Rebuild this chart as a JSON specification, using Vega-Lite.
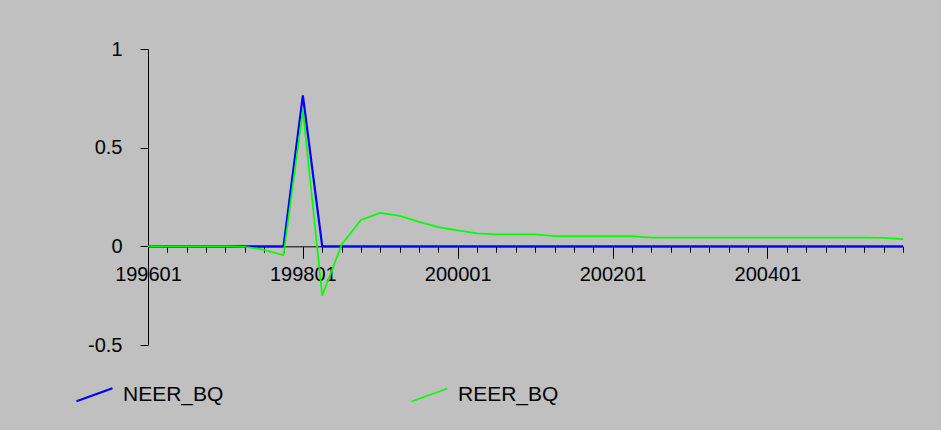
{
  "$schema": "https://vega.github.io/schema/vega-lite/v6.json",
  "autosize": {"type": "none"},
  "width": 755,
  "height": 296,
  "padding": {"left": 148, "top": 49, "right": 38, "bottom": 85},
  "background": "#C0C0C0",
  "config": {
    "view": {"stroke": null},
    "font": "Liberation Sans",
    "axis": {"grid": false, "domainColor": "#000000", "tickColor": "#000000", "labelColor": "#000000", "labelFont": "Liberation Sans", "labelFontSize": 20, "title": null}
  },
  "data": {
    "values": [
      {"period": "199601", "series": "NEER_BQ", "value": 0},
      {"period": "199602", "series": "NEER_BQ", "value": 0},
      {"period": "199603", "series": "NEER_BQ", "value": 0},
      {"period": "199604", "series": "NEER_BQ", "value": 0},
      {"period": "199701", "series": "NEER_BQ", "value": 0},
      {"period": "199702", "series": "NEER_BQ", "value": 0},
      {"period": "199703", "series": "NEER_BQ", "value": 0},
      {"period": "199704", "series": "NEER_BQ", "value": 0},
      {"period": "199801", "series": "NEER_BQ", "value": 0.765},
      {"period": "199802", "series": "NEER_BQ", "value": 0},
      {"period": "199803", "series": "NEER_BQ", "value": 0},
      {"period": "199804", "series": "NEER_BQ", "value": 0},
      {"period": "199901", "series": "NEER_BQ", "value": 0},
      {"period": "199902", "series": "NEER_BQ", "value": 0},
      {"period": "199903", "series": "NEER_BQ", "value": 0},
      {"period": "199904", "series": "NEER_BQ", "value": 0},
      {"period": "200001", "series": "NEER_BQ", "value": 0},
      {"period": "200002", "series": "NEER_BQ", "value": 0},
      {"period": "200003", "series": "NEER_BQ", "value": 0},
      {"period": "200004", "series": "NEER_BQ", "value": 0},
      {"period": "200101", "series": "NEER_BQ", "value": 0},
      {"period": "200102", "series": "NEER_BQ", "value": 0},
      {"period": "200103", "series": "NEER_BQ", "value": 0},
      {"period": "200104", "series": "NEER_BQ", "value": 0},
      {"period": "200201", "series": "NEER_BQ", "value": 0},
      {"period": "200202", "series": "NEER_BQ", "value": 0},
      {"period": "200203", "series": "NEER_BQ", "value": 0},
      {"period": "200204", "series": "NEER_BQ", "value": 0},
      {"period": "200301", "series": "NEER_BQ", "value": 0},
      {"period": "200302", "series": "NEER_BQ", "value": 0},
      {"period": "200303", "series": "NEER_BQ", "value": 0},
      {"period": "200304", "series": "NEER_BQ", "value": 0},
      {"period": "200401", "series": "NEER_BQ", "value": 0},
      {"period": "200402", "series": "NEER_BQ", "value": 0},
      {"period": "200403", "series": "NEER_BQ", "value": 0},
      {"period": "200404", "series": "NEER_BQ", "value": 0},
      {"period": "200501", "series": "NEER_BQ", "value": 0},
      {"period": "200502", "series": "NEER_BQ", "value": 0},
      {"period": "200503", "series": "NEER_BQ", "value": 0},
      {"period": "200504", "series": "NEER_BQ", "value": 0},
      {"period": "199601", "series": "REER_BQ", "value": 0},
      {"period": "199602", "series": "REER_BQ", "value": 0},
      {"period": "199603", "series": "REER_BQ", "value": 0},
      {"period": "199604", "series": "REER_BQ", "value": 0},
      {"period": "199701", "series": "REER_BQ", "value": 0},
      {"period": "199702", "series": "REER_BQ", "value": -0.002},
      {"period": "199703", "series": "REER_BQ", "value": -0.018},
      {"period": "199704", "series": "REER_BQ", "value": -0.045},
      {"period": "199801", "series": "REER_BQ", "value": 0.69},
      {"period": "199802", "series": "REER_BQ", "value": -0.25},
      {"period": "199803", "series": "REER_BQ", "value": 0.008},
      {"period": "199804", "series": "REER_BQ", "value": 0.134},
      {"period": "199901", "series": "REER_BQ", "value": 0.169},
      {"period": "199902", "series": "REER_BQ", "value": 0.154},
      {"period": "199903", "series": "REER_BQ", "value": 0.124},
      {"period": "199904", "series": "REER_BQ", "value": 0.097},
      {"period": "200001", "series": "REER_BQ", "value": 0.081},
      {"period": "200002", "series": "REER_BQ", "value": 0.066},
      {"period": "200003", "series": "REER_BQ", "value": 0.061},
      {"period": "200004", "series": "REER_BQ", "value": 0.061},
      {"period": "200101", "series": "REER_BQ", "value": 0.061},
      {"period": "200102", "series": "REER_BQ", "value": 0.052},
      {"period": "200103", "series": "REER_BQ", "value": 0.052},
      {"period": "200104", "series": "REER_BQ", "value": 0.052},
      {"period": "200201", "series": "REER_BQ", "value": 0.052},
      {"period": "200202", "series": "REER_BQ", "value": 0.052},
      {"period": "200203", "series": "REER_BQ", "value": 0.044},
      {"period": "200204", "series": "REER_BQ", "value": 0.044},
      {"period": "200301", "series": "REER_BQ", "value": 0.044},
      {"period": "200302", "series": "REER_BQ", "value": 0.044},
      {"period": "200303", "series": "REER_BQ", "value": 0.044},
      {"period": "200304", "series": "REER_BQ", "value": 0.044},
      {"period": "200401", "series": "REER_BQ", "value": 0.044},
      {"period": "200402", "series": "REER_BQ", "value": 0.044},
      {"period": "200403", "series": "REER_BQ", "value": 0.044},
      {"period": "200404", "series": "REER_BQ", "value": 0.044},
      {"period": "200501", "series": "REER_BQ", "value": 0.044},
      {"period": "200502", "series": "REER_BQ", "value": 0.044},
      {"period": "200503", "series": "REER_BQ", "value": 0.043},
      {"period": "200504", "series": "REER_BQ", "value": 0.037}
    ]
  },
  "mark": {"type": "line", "interpolate": "linear"},
  "encoding": {
    "x": {
      "field": "period",
      "type": "ordinal",
      "scale": {"type": "point", "padding": 0},
      "axis": {
        "offset": -98.67,
        "labelAngle": 0,
        "labelExpr": "indexof(['199601','199801','200001','200201','200401'], datum.value) >= 0 ? datum.label : ''",
        "tickSize": {"condition": {"test": "indexof(['199601','199801','200001','200201','200401'], datum.value) >= 0", "value": 12}, "value": 6},
        "labelPadding": 6,
        "labelDx": -5,
        "labelOverlap": false,
        "labelBaseline": "top"
      }
    },
    "y": {
      "field": "value",
      "type": "quantitative",
      "scale": {"domain": [-0.5, 1], "nice": false, "zero": false},
      "axis": {
        "values": [-0.5, 0, 0.5, 1],
        "format": ".1~f",
        "tickSize": 8,
        "labelPadding": 18,
        "labelDy": -2,
        "labelExpr": "replace(datum.label, '\u2212', '-')"
      }
    },
    "color": {
      "field": "series",
      "type": "nominal",
      "scale": {"domain": ["NEER_BQ", "REER_BQ"], "range": ["#0000FF", "#00FF00"]},
      "legend": {
        "title": null,
        "orient": "none",
        "legendX": -73,
        "legendY": 326,
        "direction": "horizontal",
        "columns": 2,
        "columnPadding": 184,
        "padding": 0,
        "symbolType": "M-1,0.36L1,-0.36",
        "symbolSize": 1296,
        "symbolStrokeWidth": 1.5,
        "labelFontSize": 21,
        "labelFont": "Liberation Sans",
        "labelColor": "#000000",
        "labelOffset": 9,
        "labelLimit": 0
      }
    },
    "strokeWidth": {
      "field": "series",
      "type": "nominal",
      "scale": {"domain": ["NEER_BQ", "REER_BQ"], "range": [2.2, 1.7]},
      "legend": null
    }
  }
}
